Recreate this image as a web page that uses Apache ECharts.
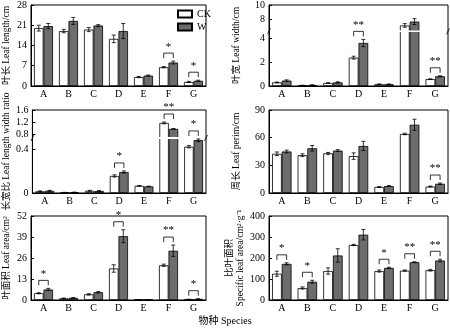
<!DOCTYPE html>
<html><head><meta charset="utf-8">
<script src="https://cdn.jsdelivr.net/npm/echarts@6/dist/echarts.min.js"></script>
<style>html,body{margin:0;padding:0;background:#fff}#c{width:450px;height:329px}</style>
</head><body><div id="c"></div>
<script>
const categories = ['A','B','C','D','E','F','G'];
const seriesNames = ['CK','W'];

const lengthTicks = [0,7,14,21,28];
const lengthCK = [20.0,19.0,19.5,16.3,3.1,6.5,1.4];
const lengthW = [20.7,22.5,20.9,19.0,3.6,8.1,1.8];
const lengthErrCK = [1.0,0.6,0.7,1.3,0.2,0.2,0.2];
const lengthErrW = [0.9,1.2,0.3,2.6,0.2,0.5,0.2];
const lengthSig = ['','','','','','*','*'];

const widthTicks = [0,2,4,8,10];
const widthCK = [0.30,0.05,0.25,2.36,0.15,7.2,0.57];
const widthW = [0.45,0.08,0.30,3.58,0.15,7.73,0.81];
const widthErrCK = [0.03,0.02,0.02,0.12,0.02,0.25,0.03];
const widthErrW = [0.06,0.02,0.05,0.30,0.02,0.40,0.04];
const widthSig = ['','','','**','','','**'];

const ratioTicks = [0,0.4,0.8,1.2,1.6];
const ratioCK = [0.015,0.004,0.02,0.155,0.065,1.17,0.42];
const ratioW = [0.02,0.006,0.018,0.19,0.06,0.97,0.48];
const ratioErrCK = [0.004,0.002,0.004,0.01,0.003,0.03,0.01];
const ratioErrW = [0.004,0.002,0.004,0.01,0.002,0.01,0.015];
const ratioSig = ['','','','*','','**','*'];

const perimTicks = [0,30,60,90];
const perimCK = [42.5,41,43,40,6.5,64,7];
const perimW = [45,48.5,46,51,7.5,74,10];
const perimErrCK = [2,1.5,1,3.5,0.5,0.8,0.5];
const perimErrW = [1.5,3,1,5,0.5,6,0.8];
const perimSig = ['','','','','','','**'];

const areaTicks = [0,13,26,39,52];
const areaCK = [4.2,1.0,3.5,19.5,0.2,21.5,0.4];
const areaW = [6.5,1.3,4.8,39.5,0.2,30.5,0.6];
const areaErrCK = [0.3,0.2,0.4,2.3,0.1,0.7,0.1];
const areaErrW = [0.7,0.2,0.4,4.0,0.1,3.5,0.2];
const areaSig = ['*','','','*','','**','*'];

const slaTicks = [0,100,200,300,400];
const slaCK = [125,57,138,262,138,140,142];
const slaW = [172,87,212,311,153,180,188];
const slaErrCK = [12,5,15,3,5,3,4];
const slaErrW = [5,7,32,25,3,2,6];
const slaSig = ['*','*','','','*','**','**'];

const FONT = "'Liberation Serif','Times New Roman','Noto Sans CJK SC',serif";

const panels = [
  {grid:{left:28,top:3,width:178,height:83}, ticks:lengthTicks, ck:lengthCK, w:lengthW, eck:lengthErrCK, ew:lengthErrW, sig:lengthSig, name:'叶长 Leaf length/cm', nameGap:19},
  {grid:{left:269,top:3,width:179,height:83}, ticks:widthTicks, ck:widthCK, w:widthW, eck:widthErrCK, ew:widthErrW, sig:widthSig, name:'叶宽 Leaf width/cm', nameGap:27,
    anchors:[[0,0],[4.5,55.4],[6.5,56.8],[10,83]], brk:[4.5,6.5]},
  {grid:{left:28,top:110,width:178,height:83}, ticks:ratioTicks, ck:ratioCK, w:ratioW, eck:ratioErrCK, ew:ratioErrW, sig:ratioSig, name:'长宽比 Leaf length width ratio', nameGap:19,
    anchors:[[0,0],[0.49,54],[0.7,56],[1.6,83]], brk:[0.49,0.7]},
  {grid:{left:269,top:110,width:179,height:83}, ticks:perimTicks, ck:perimCK, w:perimW, eck:perimErrCK, ew:perimErrW, sig:perimSig, name:'周长 Leaf perim/cm', nameGap:27},
  {grid:{left:28,top:216,width:178,height:84}, ticks:areaTicks, ck:areaCK, w:areaW, eck:areaErrCK, ew:areaErrW, sig:areaSig, name:'叶面积 Leaf area/cm²', nameGap:19},
  {grid:{left:269,top:216,width:179,height:84}, ticks:slaTicks, ck:slaCK, w:slaW, eck:slaErrCK, ew:slaErrW, sig:slaSig, name:'比叶面积\nSpecific leaf area/cm²·g⁻¹', nameGap:23}
];

function makeF(p){
  if(!p.anchors) return v=>v;
  const a = p.anchors;
  return function(v){
    for(let k=1;k<a.length;k++){
      if(v<=a[k][0] || k===a.length-1){
        const [v0,d0]=a[k-1],[v1,d1]=a[k];
        return d0+(v-v0)*(d1-d0)/(v1-v0);
      }
    }
  };
}

const BW = 0.38;
const option = {animation:false, grid:[], xAxis:[], yAxis:[], series:[],
  legend:{data:seriesNames, orient:'vertical', left:172, top:4, itemWidth:14, itemHeight:7, itemGap:3,
    textStyle:{fontFamily:FONT, fontSize:10, color:'#000'}, icon:'rect'},
  graphic:[{type:'text', left:'center', top:316, style:{text:'物种 Species', font:"10px "+FONT, fill:'#000'}}]
};

panels.forEach((p,gi)=>{
  const f = makeF(p);
  const maxD = f(p.ticks[p.ticks.length-1]);
  option.grid.push(Object.assign({show:true, borderColor:'#000', borderWidth:1, backgroundColor:'#fff'}, p.grid));
  option.xAxis.push({type:'category', gridIndex:gi, data:categories,
    axisLine:{lineStyle:{color:'#000', width:1}}, axisTick:{show:false},
    axisLabel:{fontFamily:FONT, fontSize:10, color:'#000', margin:3}});
  option.yAxis.push({type:'value', gridIndex:gi, min:0, max:maxD,
    name:p.name, nameLocation:'middle', nameGap:p.nameGap,
    nameTextStyle:{fontFamily:FONT, fontSize:9.5, color:'#000', lineHeight:11},
    splitLine:{show:false},
    axisLine:{show:true, lineStyle:{color:'#000', width:1}},
    axisTick:{show:true, inside:true, length:3, customValues:p.ticks.map(f), lineStyle:{color:'#000'}},
    axisLabel:{fontFamily:FONT, fontSize:10, color:'#000', margin:4, customValues:p.ticks.map(f),
      formatter:val=>{const t=p.ticks.find(t=>Math.abs(f(t)-val)<1e-6); return t===undefined?'':String(t);}}});
  const barBase = {type:'bar', xAxisIndex:gi, yAxisIndex:gi, barWidth:(BW*100)+'%', barGap:'0%', z:2};
  option.series.push(Object.assign({name:'CK', data:p.ck.map(f), itemStyle:{color:'#fff', borderColor:'#000', borderWidth:0.8}}, barBase));
  option.series.push(Object.assign({name:'W', data:p.w.map(f), itemStyle:{color:'#6d6d6d', borderColor:'#000', borderWidth:0.8}}, barBase));
  if(p.brk){
    option.series.push({type:'custom', xAxisIndex:gi, yAxisIndex:gi, z:3, silent:true, data:[[0,0]],
      renderItem:(params, api)=>{
        const cs = params.coordSys;
        const y1 = api.coord([0, f(p.brk[0])])[1];
        const y2 = api.coord([0, f(p.brk[1])])[1];
        const h = Math.max(1.6, y1-y2);
        const yc = (y1+y2)/2;
        const ln = {stroke:'#000', lineWidth:0.8};
        return {type:'group', children:[
          {type:'rect', shape:{x:cs.x+1, y:yc-h/2, width:cs.width-2, height:h}, style:{fill:'#fff'}},
          {type:'line', shape:{x1:cs.x-1.5, y1:yc+3, x2:cs.x+1.5, y2:yc-3}, style:ln},
          {type:'line', shape:{x1:cs.x+cs.width-1.5, y1:yc+3, x2:cs.x+cs.width+1.5, y2:yc-3}, style:ln}
        ]};
      }});
  }
  option.series.push({type:'custom', xAxisIndex:gi, yAxisIndex:gi, z:4, silent:true,
    encode:{x:0, y:1},
    data:categories.map((c,i)=>[i, f(Math.max(p.ck[i], p.w[i]))]),
    renderItem:(params, api)=>{
      const i = api.value(0);
      const band = api.size([1,0])[0];
      const bw = band*BW;
      const xc = api.coord([i,0])[0];
      const ch = [];
      const st = {stroke:'#000', lineWidth:0.8};
      const tops = [], xs = [];
      [[p.ck,p.eck,-1],[p.w,p.ew,1]].forEach(([vals,errs,s])=>{
        const x = xc + s*bw/2;
        const v = vals[i], e = errs[i];
        const yt = api.coord([i, f(v+e)])[1];
        const yb = api.coord([i, f(Math.max(0,v-e))])[1];
        ch.push({type:'line', shape:{x1:x,y1:yt,x2:x,y2:yb}, style:st});
        ch.push({type:'line', shape:{x1:x-2,y1:yt,x2:x+2,y2:yt}, style:st});
        ch.push({type:'line', shape:{x1:x-2,y1:yb,x2:x+2,y2:yb}, style:st});
        tops.push(yt); xs.push(x);
      });
      if(p.sig[i]){
        const ly = Math.min(tops[0],tops[1]) - 8;
        ch.push({type:'polyline', shape:{points:[[xs[0],ly+5],[xs[0],ly],[xs[1],ly],[xs[1],ly+5]]}, style:{stroke:'#000', lineWidth:0.8, fill:null}});
        ch.push({type:'text', x:xc, y:ly-1, style:{text:p.sig[i], font:"11px "+FONT, fill:'#000', align:'center', verticalAlign:'bottom'}});
      }
      return {type:'group', children:ch};
    }});
});

const chart = echarts.init(document.getElementById('c'), null, {renderer:'canvas'});
chart.setOption(option);
</script></body></html>
